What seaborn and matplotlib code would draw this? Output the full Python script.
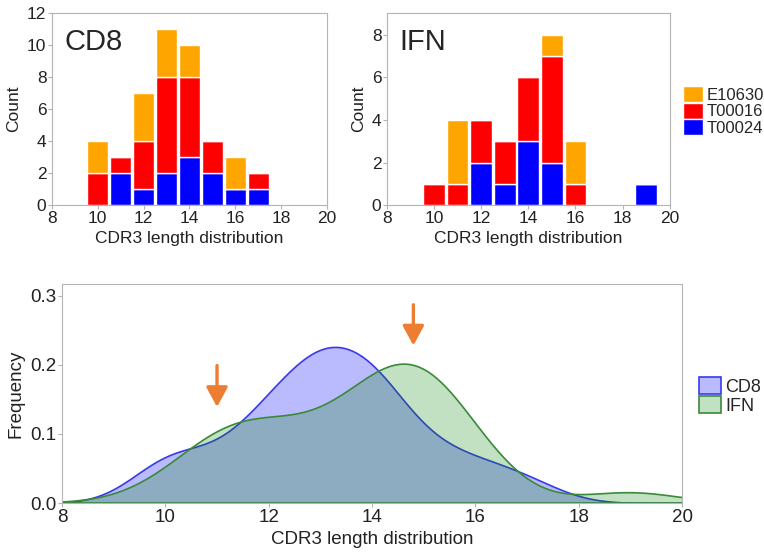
import numpy as np
import pandas as pd
import matplotlib

matplotlib.use('Agg')
import matplotlib.pyplot as plt
import seaborn as sns

# --- dane: liczba klonotypów dla każdej długości CDR3 ---
lengths_cd8 = [10, 11, 12, 13, 14, 15, 16, 17]
cd8_E10630 = [2, 0, 3, 3, 2, 0, 2, 0]
cd8_T00016 = [2, 1, 3, 6, 5, 2, 0, 1]
cd8_T00024 = [0, 2, 1, 2, 3, 2, 1, 1]

lengths_ifn = [10, 11, 12, 13, 14, 15, 16, 19]
ifn_E10630 = [0, 3, 0, 0, 0, 1, 2, 0]
ifn_T00016 = [1, 1, 2, 2, 3, 5, 1, 0]
ifn_T00024 = [0, 0, 2, 1, 3, 2, 0, 1]

samples = ['E10630', 'T00016', 'T00024']
sample_colors = {'E10630': '#FFA500', 'T00016': '#FF0000', 'T00024': '#0000FF'}

# strzałki (pozycje długości CDR3 wskazane na wykresie gęstości)
arrow_x = [11, 14.8]
arrow_y_tail = [0.199, 0.287]
arrow_y_head = [0.139, 0.228]


def make_table(lengths, per_sample):
    rows = []
    for s, counts in zip(samples, per_sample):
        for L, c in zip(lengths, counts):
            rows.append({'length': L, 'sample': s, 'count': c})
    return pd.DataFrame(rows)


df_cd8 = make_table(lengths_cd8, [cd8_E10630, cd8_T00016, cd8_T00024])
df_ifn = make_table(lengths_ifn, [ifn_E10630, ifn_T00016, ifn_T00024])

# surowe obserwacje do KDE
raw_cd8 = np.repeat(df_cd8['length'].values, df_cd8['count'].values)
raw_ifn = np.repeat(df_ifn['length'].values, df_ifn['count'].values)

sns.set_style('white')
plt.rcParams['font.family'] = ['Liberation Sans', 'DejaVu Sans']
plt.rcParams['axes.edgecolor'] = '#b4b4b4'
plt.rcParams['xtick.color'] = '#b4b4b4'
plt.rcParams['ytick.color'] = '#b4b4b4'
plt.rcParams['xtick.labelcolor'] = '#222222'
plt.rcParams['ytick.labelcolor'] = '#222222'

fig = plt.figure(figsize=(7.64, 5.53), dpi=100)
ax1 = fig.add_axes([0.068, 0.629, 0.36, 0.347])
ax2 = fig.add_axes([0.5065, 0.629, 0.370, 0.347])
ax3 = fig.add_axes([0.0812, 0.0904, 0.8115, 0.396])

for ax, df, title, ymax, yticks, show_leg in [
        (ax1, df_cd8, 'CD8', 12, [0, 2, 4, 6, 8, 10, 12], False),
        (ax2, df_ifn, 'IFN', 9, [0, 2, 4, 6, 8], True)]:
    sns.histplot(data=df, x='length', weights='count', hue='sample',
                 hue_order=samples, palette=sample_colors, multiple='stack',
                 discrete=True, shrink=0.92, alpha=1, edgecolor='white',
                 linewidth=1, legend=show_leg, ax=ax)
    ax.set_xlim(8, 20)
    ax.set_ylim(0, ymax)
    ax.set_xticks([8, 10, 12, 14, 16, 18, 20])
    ax.set_yticks(yticks)
    ax.tick_params(axis='both', which='major', labelsize=12.5, length=3,
                   pad=1, direction='out', bottom=True, left=True)
    ax.set_xlabel('CDR3 length distribution', fontsize=12.5, color='#222222')
    ax.set_ylabel('Count', fontsize=12.5, color='#222222')
    ax.text(0.045, 0.85, title, transform=ax.transAxes, fontsize=21,
            va='center', ha='left')

sns.move_legend(ax2, 'center left', bbox_to_anchor=(1.04, 0.49),
                frameon=False, title=None, fontsize=12, handlelength=1.2,
                handleheight=1.1, handletextpad=0.25, labelspacing=0.0,
                borderaxespad=0, borderpad=0.1)

# --- wykres gęstości ---
sns.kdeplot(x=raw_cd8, fill=True, color='#0000FF', alpha=0.27, cut=5,
            bw_adjust=0.86, linewidth=1.2, edgecolor='#3a3ae8', label='CD8',
            ax=ax3)
sns.kdeplot(x=raw_ifn, fill=True, color='#008000', alpha=0.24, cut=5,
            bw_adjust=0.9, linewidth=1.2, edgecolor='#3a8a3a', label='IFN',
            ax=ax3)

for xa, yt, yh in zip(arrow_x, arrow_y_tail, arrow_y_head):
    ax3.annotate('', xy=(xa, yh), xytext=(xa, yt),
                 arrowprops=dict(arrowstyle='-|>,head_width=0.65,head_length=1.2',
                                 color='#ED7D31', lw=2.4, shrinkA=0, shrinkB=0))

ax3.set_xlim(8, 20)
ax3.set_ylim(0, 0.317)
ax3.set_xticks([8, 10, 12, 14, 16, 18, 20])
ax3.set_yticks([0.0, 0.1, 0.2, 0.3])
ax3.set_yticklabels(['0.0', '0.1', '0.2', '0.3'])
ax3.tick_params(axis='both', which='major', labelsize=13.5, length=3, pad=1,
                bottom=True, left=True)
ax3.set_xlabel('CDR3 length distribution', fontsize=13.5, color='#222222')
ax3.set_ylabel('Frequency', fontsize=13.5, color='#222222')
ax3.legend(loc='center left', bbox_to_anchor=(1.025, 0.49), frameon=False,
           fontsize=13, handlelength=1.2, handleheight=1.1,
           handletextpad=0.25, labelspacing=0.0, borderaxespad=0,
           borderpad=0.1)

fig.savefig('out.png', dpi=100)
plt.close(fig)
